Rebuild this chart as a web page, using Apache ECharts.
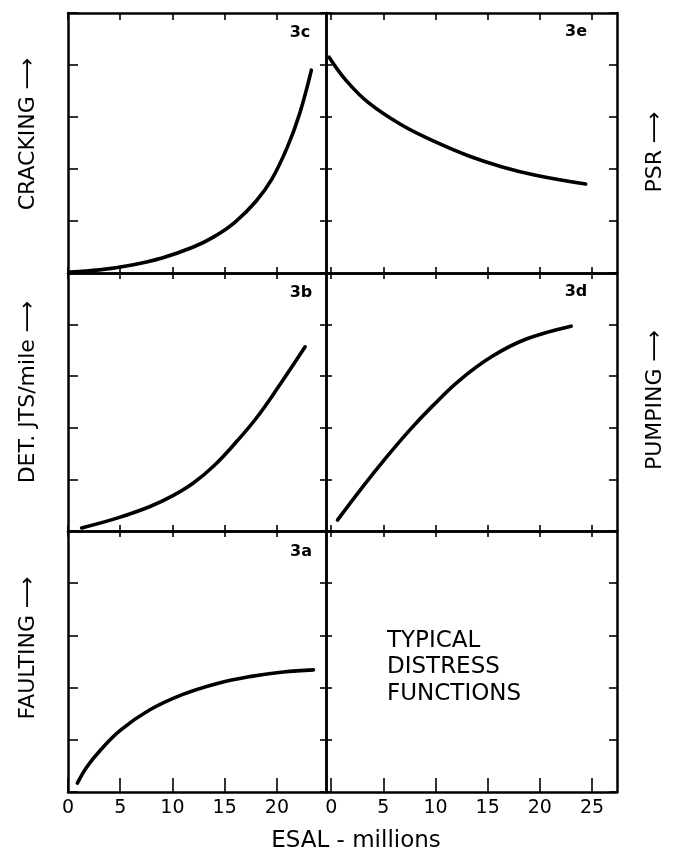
<!DOCTYPE html>
<html>
<head>
<meta charset="utf-8">
<script src="https://cdn.jsdelivr.net/npm/echarts@6/dist/echarts.min.js"></script>
<style>html,body{margin:0;padding:0;background:#fff;}#c{width:674px;height:852px;}</style>
</head>
<body>
<div id="c"></div>
<script>
// ---- data (ESAL millions vs relative distress) ----
const leftTicks = [0, 5, 10, 15, 20];
const rightTicks = [0, 5, 10, 15, 20, 25];

const crackX = [0.2, 3.0, 6.0, 9.0, 12.0, 14.0, 16.0, 18.0, 19.5, 21.0, 22.2, 23.3];
const crackY = [0.02, 0.06, 0.15, 0.29, 0.50, 0.70, 0.98, 1.38, 1.80, 2.42, 3.08, 3.9];

const psrX = [-0.2, 1.4, 3.6, 6.8, 10.0, 13.2, 16.4, 19.6, 24.4];
const psrY = [4.15, 3.71, 3.27, 2.84, 2.52, 2.25, 2.04, 1.88, 1.71];

const jtsX = [1.3, 4.7, 7.8, 10.0, 12.0, 14.0, 16.0, 18.0, 20.0, 22.7];
const jtsY = [0.06, 0.25, 0.47, 0.68, 0.93, 1.27, 1.70, 2.18, 2.75, 3.57];

const pumpX = [0.6, 3.0, 5.3, 7.5, 9.7, 12.3, 15.4, 18.7, 23.0];
const pumpY = [0.21, 0.85, 1.43, 1.95, 2.42, 2.92, 3.38, 3.72, 3.97];

const faultX = [0.9, 1.8, 3.1, 5.0, 7.8, 11.0, 14.3, 17.4, 20.6, 23.5];
const faultY = [0.17, 0.48, 0.80, 1.18, 1.57, 1.87, 2.08, 2.21, 2.30, 2.34];

const panelLabels = ['3c', '3e', '3b', '3d', '3a'];
const yTitles = ['CRACKING ⟶', 'PSR ⟶', 'DET. JTS/mile ⟶', 'PUMPING ⟶', 'FAULTING ⟶'];
const noteLines = ['TYPICAL', 'DISTRESS', 'FUNCTIONS'];
const xTitle = 'ESAL - millions';

// ---- layout ----
const FONT = 'DejaVu Sans';
const colL = {left: 68, width: 258};
const colR = {left: 326, width: 291};
const rows = [{top: 13, height: 260}, {top: 273, height: 258}, {top: 531, height: 261}];
const xRangeL = [0, 24.7];
const xRangeR = [-0.5, 27.4];

const grids = [], xAxes = [], yAxes = [], series = [];
const panels = [
  {row: 0, col: 'L', x: crackX, y: crackY},
  {row: 0, col: 'R', x: psrX, y: psrY},
  {row: 1, col: 'L', x: jtsX, y: jtsY},
  {row: 1, col: 'R', x: pumpX, y: pumpY},
  {row: 2, col: 'L', x: faultX, y: faultY},
  {row: 2, col: 'R', x: null, y: null}
];
const lineSty = () => ({show: true, onZero: false, lineStyle: {color: '#000', width: 2.5}});
const tickSty = () => ({color: '#000', width: 1.6});
panels.forEach((p, i) => {
  const c = p.col === 'L' ? colL : colR;
  const r = rows[p.row];
  grids.push({left: c.left, width: c.width, top: r.top, height: r.height, containLabel: false});
  const rng = p.col === 'L' ? xRangeL : xRangeR;
  const ticks = p.col === 'L' ? leftTicks : rightTicks;
  const bottomRow = p.row === 2;
  xAxes.push({
    type: 'value', gridIndex: i, position: 'bottom', min: rng[0], max: rng[1],
    axisLine: lineSty(),
    axisTick: {show: true, inside: true, length: bottomRow ? 14 : 6, customValues: ticks.slice(), lineStyle: tickSty()},
    axisLabel: {show: bottomRow, customValues: ticks.slice(), color: '#000', fontFamily: FONT, fontSize: 19, margin: 7},
    splitLine: {show: false}
  });
  xAxes.push({
    type: 'value', gridIndex: i, position: 'top', min: rng[0], max: rng[1],
    axisLine: lineSty(),
    axisTick: {show: true, inside: true, length: p.row === 0 ? 7 : 6, customValues: ticks.slice(), lineStyle: tickSty()},
    axisLabel: {show: false},
    splitLine: {show: false}
  });
  yAxes.push({
    type: 'value', gridIndex: i, position: 'left', min: 0, max: 5, interval: 1,
    axisLine: lineSty(),
    axisTick: {show: true, inside: true, length: p.col === 'L' ? 10 : 6, lineStyle: tickSty()},
    axisLabel: {show: false},
    splitLine: {show: false}
  });
  yAxes.push({
    type: 'value', gridIndex: i, position: 'right', min: 0, max: 5, interval: 1,
    axisLine: lineSty(),
    axisTick: {show: true, inside: true, length: p.col === 'L' ? 6 : 8, lineStyle: tickSty()},
    axisLabel: {show: false},
    splitLine: {show: false}
  });
  if (p.x) {
    series.push({
      type: 'line', xAxisIndex: 2 * i, yAxisIndex: 2 * i,
      data: p.x.map((v, k) => [v, p.y[k]]),
      smooth: 0.4, showSymbol: false, symbol: 'none',
      lineStyle: {color: '#000', width: 3.6, cap: 'round'}, silent: true, animation: false
    });
  }
});

const txt = (x, y, text, opts) => Object.assign({
  type: 'text', x: x, y: y, silent: true,
  style: Object.assign({text: text, fill: '#000', fontFamily: FONT, align: 'center', verticalAlign: 'middle'}, opts.style || {})
}, opts.el || {});
const rot = {rotation: Math.PI / 2};

const graphic = [
  txt(28, 134, yTitles[0], {style: {fontSize: 22}, el: rot}),
  txt(655, 152, yTitles[1], {style: {fontSize: 22}, el: rot}),
  txt(28, 392, yTitles[2], {style: {fontSize: 22}, el: rot}),
  txt(655, 400, yTitles[3], {style: {fontSize: 22}, el: rot}),
  txt(28, 648, yTitles[4], {style: {fontSize: 22}, el: rot}),
  txt(300, 33, panelLabels[0], {style: {fontSize: 16, fontWeight: 'bold'}}),
  txt(576, 32, panelLabels[1], {style: {fontSize: 16, fontWeight: 'bold'}}),
  txt(301, 293, panelLabels[2], {style: {fontSize: 16, fontWeight: 'bold'}}),
  txt(576, 292, panelLabels[3], {style: {fontSize: 16, fontWeight: 'bold'}}),
  txt(301, 552, panelLabels[4], {style: {fontSize: 16, fontWeight: 'bold'}}),
  txt(387, 641, noteLines[0], {style: {fontSize: 23, align: 'left'}}),
  txt(387, 667, noteLines[1], {style: {fontSize: 23, align: 'left'}}),
  txt(387, 694, noteLines[2], {style: {fontSize: 23, align: 'left'}}),
  txt(356, 841, xTitle, {style: {fontSize: 23}})
];

const chart = echarts.init(document.getElementById('c'), null, {renderer: 'canvas'});
chart.setOption({
  animation: false,
  backgroundColor: '#fff',
  grid: grids,
  xAxis: xAxes,
  yAxis: yAxes,
  series: series,
  graphic: graphic
});
</script>
</body>
</html>
